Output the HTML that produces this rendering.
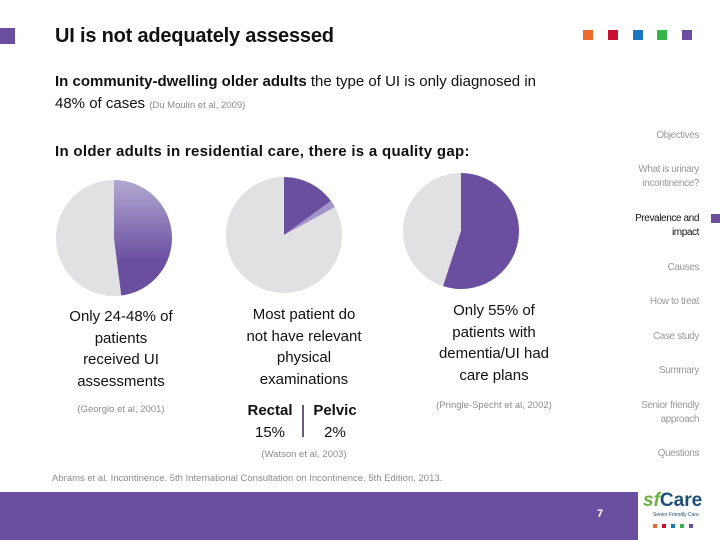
<!DOCTYPE html>
<html><head><meta charset="utf-8"><style>
body{margin:0;width:720px;height:540px;position:relative;background:#fff;font-family:"Liberation Sans",sans-serif;overflow:hidden}
.a{position:absolute}
.nav{position:absolute;right:21px;text-align:right;font-size:10px;color:#9a9a9a;line-height:14px;letter-spacing:-0.4px}
.cap{position:absolute;text-align:center;font-size:15px;color:#111;line-height:21.5px}
.ref{position:absolute;font-size:9.5px;color:#8c8c8c;text-align:center}
</style></head><body>
<div class="a" style="left:0;top:28px;width:15px;height:16px;background:#6a4fa0"></div>
<div class="a" style="left:55px;top:25px;font-size:20px;font-weight:bold;color:#111;letter-spacing:-0.2px">UI is not adequately assessed</div>
<div class="a" style="left:583px;top:30px;width:110px;height:11px">
<div class="a" style="left:0;width:10px;height:10px;background:#ee6b2b"></div>
<div class="a" style="left:25px;width:10px;height:10px;background:#c8102e"></div>
<div class="a" style="left:50px;width:10px;height:10px;background:#1a76c2"></div>
<div class="a" style="left:74px;width:10px;height:10px;background:#35b44a"></div>
<div class="a" style="left:99px;width:10px;height:10px;background:#6a4fa0"></div>
</div>
<div class="a" style="left:55px;top:71px;font-size:15px;line-height:22px;color:#111;width:510px"><b>In community-dwelling older adults</b> the type of UI is only diagnosed in 48% of cases <span style="font-size:9.5px;color:#8c8c8c">(Du Moulin et al, 2009)</span></div>
<div class="a" style="left:55px;top:143px;font-size:15px;font-weight:bold;color:#111;letter-spacing:0.3px">In older adults in residential care, there is a quality gap:</div>

<svg class="a" style="left:0;top:0" width="560" height="310" id="pies">
<defs><linearGradient id="g1" x1="0" y1="0" x2="0" y2="1"><stop offset="0" stop-color="#b3a9d2"/><stop offset="0.7" stop-color="#6a4fa0"/><stop offset="1" stop-color="#6a4fa0"/></linearGradient></defs>
</svg>
<script>
const pieNames=['assessment-pie','exam-pie','careplan-pie'];
const pieValues=[[48],[15,2],[55]];
const pieColors=[['url(#g1)'],['#6a4fa0','#a493cb'],['#6a4fa0']];
const pieCenters=[[114,238],[284,235],[461,231]];
const pieR=58;
const svg=document.getElementById('pies');
const NS='http://www.w3.org/2000/svg';
function pt(c,a){return [c[0]+pieR*Math.sin(a),c[1]-pieR*Math.cos(a)];}
pieValues.forEach((vals,i)=>{
  const c=pieCenters[i];
  const bg=document.createElementNS(NS,'circle');
  bg.setAttribute('cx',c[0]);bg.setAttribute('cy',c[1]);bg.setAttribute('r',pieR);bg.setAttribute('fill','#e1e1e3');
  
  
  svg.appendChild(bg);
  let start=0;
  vals.forEach((v,j)=>{
    const a0=start/100*2*Math.PI,a1=(start+v)/100*2*Math.PI;start+=v;
    const p0=pt(c,a0),p1=pt(c,a1);
    const p=document.createElementNS(NS,'path');
    p.setAttribute('d',`M${c[0]},${c[1]} L${p0[0]},${p0[1]} A${pieR},${pieR} 0 ${v>50?1:0} 1 ${p1[0]},${p1[1]} Z`);
    p.setAttribute('fill',pieColors[i][j]);
    
    
    svg.appendChild(p);
  });
});
</script>

<div class="cap" style="left:40px;top:306px;width:162px">Only 24-48% of<br>patients<br>received UI<br>assessments</div>
<div class="ref" style="left:40px;top:404px;width:162px">(Georgio et al, 2001)</div>
<div class="cap" style="left:220px;top:304px;width:168px">Most patient do<br>not have relevant<br>physical<br>examinations</div>
<div class="cap" style="left:240px;top:400px;width:60px"><b>Rectal</b><br>15%</div>
<div class="a" style="left:302px;top:405px;width:2px;height:32px;background:#6a5a80"></div>
<div class="cap" style="left:306px;top:400px;width:58px"><b>Pelvic</b><br>2%</div>
<div class="ref" style="left:230px;top:449px;width:148px">(Watson et al, 2003)</div>
<div class="cap" style="left:410px;top:300px;width:168px">Only 55% of<br>patients with<br>dementia/UI had<br>care plans</div>
<div class="ref" style="left:420px;top:400px;width:148px">(Pringle-Specht et al, 2002)</div>
<div class="a" style="left:52px;top:473px;font-size:9.5px;color:#8c8c8c">Abrams et al. Incontinence. 5th International Consultation on Incontinence. 5th Edition, 2013.</div>

<div class="nav" style="top:129px">Objectives</div>
<div class="nav" style="top:163px">What is urinary<br>incontinence?</div>
<div class="nav" style="top:212px;color:#111">Prevalence and<br>impact</div>
<div class="a" style="left:711px;top:214px;width:9px;height:9px;background:#6a4fa0"></div>
<div class="nav" style="top:261px">Causes</div>
<div class="nav" style="top:295px">How to treat</div>
<div class="nav" style="top:330px">Case study</div>
<div class="nav" style="top:364px">Summary</div>
<div class="nav" style="top:399px">Senior friendly<br>approach</div>
<div class="nav" style="top:447px">Questions</div>

<div class="a" style="left:0;top:492px;width:638px;height:48px;background:#6a4fa0"></div>
<div class="a" style="left:597px;top:508px;font-size:11px;color:#fff;font-weight:bold">7</div>
<div class="a" style="left:643px;top:490px;width:70px;height:45px;background:#fff">
<div style="font-size:19px;font-weight:bold;color:#1d4e7a;line-height:22px"><i style="color:#6ab23e">sf</i>Care</div>
<div style="font-size:5px;color:#1d4e7a;margin-left:10px">Senior Friendly Care</div>
<div style="margin:6px 0 0 10px;display:flex;gap:5px"><span style="width:4px;height:4px;background:#ee6b2b"></span><span style="width:4px;height:4px;background:#c8102e"></span><span style="width:4px;height:4px;background:#1a76c2"></span><span style="width:4px;height:4px;background:#35b44a"></span><span style="width:4px;height:4px;background:#6a4fa0"></span></div>
</div>
</body></html>
